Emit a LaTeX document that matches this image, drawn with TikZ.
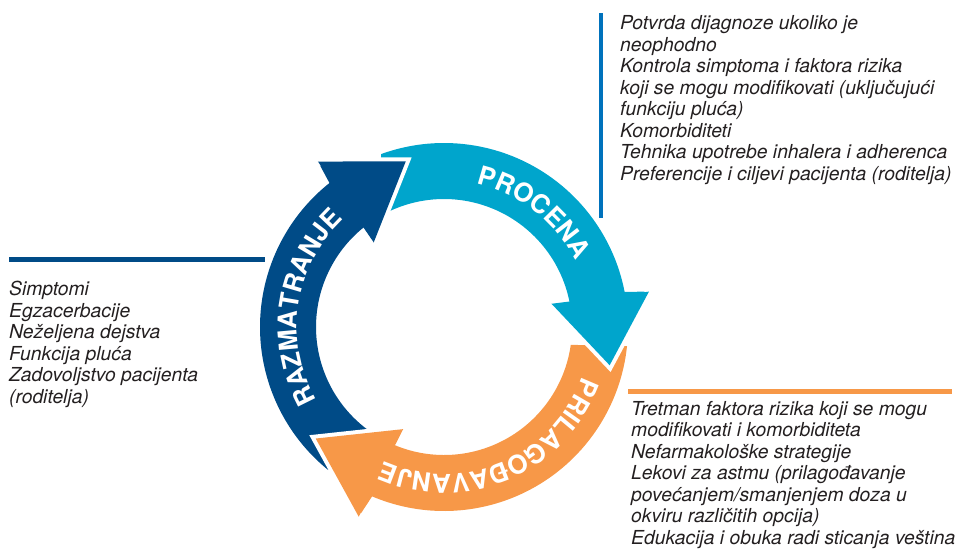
\documentclass[tikz,border=0pt]{standalone}
\usepackage{fontspec}
\setmainfont{TeX Gyre Heros}
\usetikzlibrary{decorations.text}

\definecolor{navy}{RGB}{0,75,135}
\definecolor{cyanblue}{RGB}{0,165,204}
\definecolor{peach}{RGB}{247,152,72}
\definecolor{ruleblue}{RGB}{0,114,188}
\definecolor{bodygray}{RGB}{35,31,32}

% curved band with its head: colour, outer tail, inner tail, head base, tip
\newcommand{\ringbody}[5]{%
  \fill[#1] (#2:184) arc[start angle=#2, end angle=#4, radius=184]
    -- (#4-1.2:208) -- (#5:170) -- (#4+1.2:110) -- (#4:128)
    arc[start angle=#4, end angle=#3, radius=128] -- cycle;}
% head again on top, with a white gap round its two sides
\newcommand{\ringhead}[3]{%
  \draw[white, line width=8pt, line join=miter, miter limit=30]
    (#2-1.2:208) -- (#3:170) -- (#2+1.2:110);
  \fill[#1] (#2-1.2:208) -- (#3:170) -- (#2+1.2:110) -- cycle;}
\newcommand{\arclabel}{\fontsize{26}{26}\selectfont\bfseries}

\begin{document}
\begin{tikzpicture}[x=1pt, y=1pt,
  bodytext/.style={font=\fontsize{19.3}{21.5}\selectfont\itshape, text=bodygray, align=left, inner sep=0pt},
  steplabel/.style={decorate, decoration={text along path, text align=center, text color=white, text={|\arclabel|#1}}}]
\useasboundingbox (0,0) rectangle (957,-555);

% the cycle
\begin{scope}[shift={(444,-327)}]
\ringbody{navy}{231}{238}{128.5}{103}
\ringbody{cyanblue}{110}{120}{11}{-13}
\ringbody{peach}{-6}{-8}{-113}{-139}
\ringhead{navy}{128.5}{103}
\ringhead{cyanblue}{11}{-13}
\ringhead{peach}{-113}{-139}
\path[steplabel=PROCENA] (100:147) arc[start angle=100, end angle=4, radius=147];
\path[steplabel=RAZMATRANJE] (225:147) arc[start angle=225, end angle=118, radius=147];
\path[steplabel=PRILAGOĐAVANJE] (-10:147) arc[start angle=-10, end angle=-124, radius=147];
\end{scope}

% rules
\coordinate (assess top) at (601,-13);
\coordinate (assess end) at (601,-218);
\coordinate (review start) at (9,-259.5);
\coordinate (review end) at (265,-259.5);
\coordinate (adjust start) at (628,-391.5);
\coordinate (adjust end) at (952,-391.5);
\draw[ruleblue, line width=4pt] (assess top) -- (assess end);
\draw[navy, line width=5pt] (review start) -- (review end);
\draw[peach, line width=5pt] (adjust start) -- (adjust end);

% lists
\node[bodytext, anchor=north west] (assess) at (620,-15.3) {Potvrda dijagnoze ukoliko je\\neophodno\\Kontrola simptoma i faktora rizika\\koji se mogu modifikovati (uključujući\\funkciju pluća)\\Komorbiditeti\\Tehnika upotrebe inhalera i adherenca\\Preferencije i ciljevi pacijenta (roditelja)};
\node[bodytext, anchor=north west] (review) at (9,-281) {Simptomi\\Egzacerbacije\\Neželjena dejstva\\Funkcija pluća\\Zadovoljstvo pacijenta\\(roditelja)};
\node[bodytext, anchor=north west] (adjust) at (631,-401) {Tretman faktora rizika koji se mogu\\modifikovati i komorbiditeta\\Nefarmakološke strategije\\Lekovi za astmu (prilagođavanje\\povećanjem/smanjenjem doza u\\okviru različitih opcija)\\Edukacija i obuka radi sticanja veština};
\end{tikzpicture}
\end{document}
